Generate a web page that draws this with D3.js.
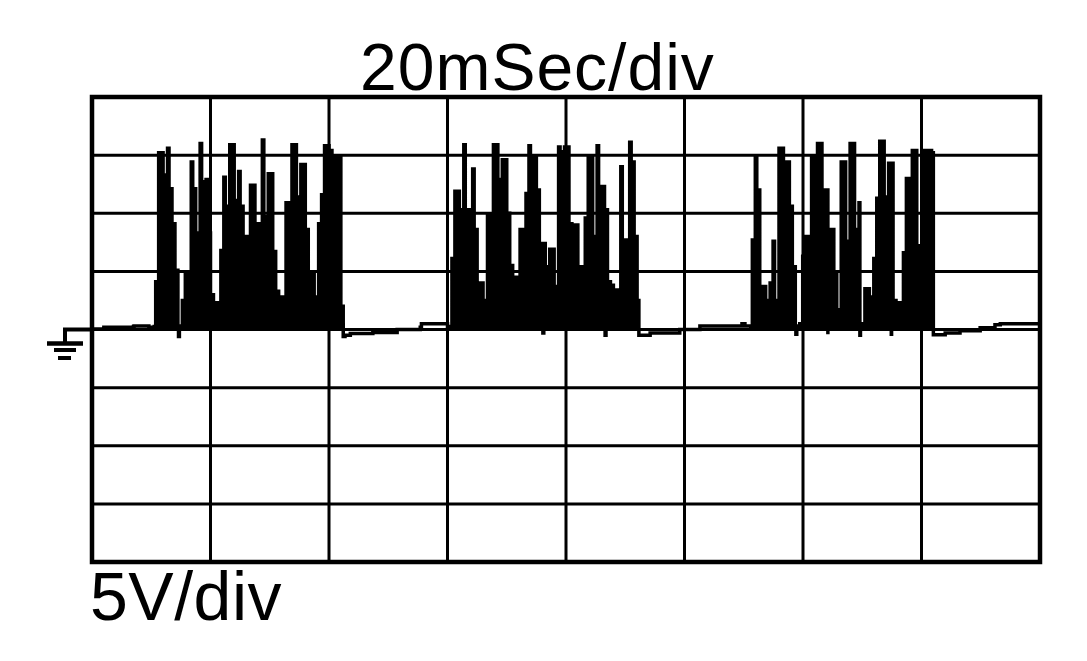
<!DOCTYPE html>
<html>
<head>
    <title>scope</title>
    <style>
        body { margin: 0; background: #fff; }
    </style>
</head>
<body>
<div id="chart"></div>
<script src="https://cdn.jsdelivr.net/npm/d3@7/dist/d3.min.js"></script>
<script type="text/javascript">
// scope settings
var timeTicks = [0, 20, 40, 60, 80, 100, 120, 140, 160];        // ms
var voltTicks = [-20, -15, -10, -5, 0, 5, 10, 15, 20];          // V
var timeLabel = '20mSec/div';
var voltLabel = '5V/div';

// quiet parts of the trace [ms, V]
var idle0 = [[0, 0.05], [1.9, 0.05], [2.0, 0.2], [7.0, 0.25], [7.1, 0.3], [9.5, 0.3], [9.6, 0.2], [10.3, 0.2]];
var idle1 = [[42.7, -0.5], [43.6, -0.35], [47.4, -0.25], [51.5, 0.0], [55.4, 0.2], [55.6, 0.5], [59.5, 0.5], [60.0, 0.15]];
var idle2 = [[92.5, -0.5], [94.2, -0.3], [99.2, 0.0], [102.6, 0.3], [109.7, 0.5], [110.2, 0.3], [111.0, 0.3]];
var idle3 = [[142.0, -0.45], [144.0, -0.3], [146.5, -0.1], [149.9, 0.15], [152.4, 0.4], [153.3, 0.5], [160, 0.5]];

// short negative dips [ms, V]
var dips = [[14.6, -0.6], [42.4, -0.6], [76.1, -0.3], [86.6, -0.5], [92.3, -0.5],
            [118.8, -0.4], [124.2, -0.4], [129.6, -0.5], [134.9, -0.4]];

// burst peaks, one every 0.5 ms (V)
var burstStart = [10.5, 60.5, 111.2];
var burstStep = 0.5;
var burstFloor = 0.25;
var burst1 = [4.1, 15.2, 15.2, 13.3, 15.6, 12.1, 9.1, 5.1, 0.3, 2.5,
              4.8, 4.8, 14.4, 12.1, 8.3, 16.0, 12.7, 12.9, 8.3, 3.0,
              2.3, 2.3, 6.8, 13.1, 10.6, 15.9, 15.9, 11.1, 13.6, 10.6,
              8.0, 8.0, 12.4, 12.4, 9.1, 9.1, 16.3, 9.7, 13.4, 13.4,
              6.7, 3.3, 2.8, 2.8, 10.9, 10.9, 15.9, 15.9, 11.4, 14.2,
              14.2, 8.6, 4.8, 4.8, 2.8, 9.1, 11.6, 15.8, 15.8, 15.4,
              14.9, 14.9, 14.9, 2.0];
var burst2 = [6.1, 11.9, 11.9, 10.3, 15.9, 10.3, 10.3, 13.8, 8.6, 4.0,
              4.0, 2.5, 9.8, 9.8, 15.9, 15.9, 12.9, 14.6, 14.6, 10.0,
              5.5, 4.5, 4.5, 8.6, 8.6, 11.7, 15.8, 14.8, 14.8, 12.0,
              7.4, 7.4, 5.4, 6.9, 6.9, 3.7, 15.7, 15.3, 15.7, 15.7,
              9.1, 9.0, 9.0, 5.4, 5.4, 9.6, 14.9, 14.9, 8.0, 15.8,
              12.3, 12.3, 10.3, 4.1, 3.8, 3.4, 3.4, 14.0, 7.7, 7.7,
              16.1, 14.4, 8.0, 2.5];
var burst3 = [7.7, 14.9, 12.0, 3.7, 3.7, 2.5, 4.0, 7.6, 2.5, 15.6,
              15.6, 14.4, 14.4, 10.6, 5.4, 0.3, 0.5, 6.3, 8.0, 8.0,
              14.8, 14.8, 16.0, 16.0, 12.0, 12.0, 8.6, 8.6, 4.8, 1.7,
              14.4, 14.4, 7.6, 16.0, 16.0, 8.6, 10.9, 0.5, 3.5, 3.5,
              2.8, 6.1, 11.3, 16.2, 16.2, 11.4, 14.3, 14.3, 2.5, 2.3,
              2.3, 6.6, 13.0, 13.0, 15.4, 15.4, 7.2, 7.2, 15.4, 15.4,
              15.4, 15.2];

var width = 1087, height = 661;

var svg = d3.select('#chart')
.append('svg')
.attr('width', width)
.attr('height', height);

var xScale = d3.scaleLinear()
.domain([0, 160])
.range([92, 1040]);

var yScale = d3.scaleLinear()
.domain([-20, 20])
.range([562, 97]);

// graticule
svg.append('g')
.selectAll('line')
.data(timeTicks.slice(1, -1))
.enter()
.append('line')
.attr('x1', d => xScale(d))
.attr('x2', d => xScale(d))
.attr('y1', yScale(20))
.attr('y2', yScale(-20))
.attr('stroke', '#000')
.attr('stroke-width', 3);

svg.append('g')
.selectAll('line')
.data(voltTicks.slice(1, -1))
.enter()
.append('line')
.attr('x1', xScale(0))
.attr('x2', xScale(160))
.attr('y1', d => yScale(d))
.attr('y2', d => yScale(d))
.attr('stroke', '#000')
.attr('stroke-width', 3);

// build the trace: floor, then peak, for every sample
var points = [].concat(idle0, idle1, idle2, idle3, dips);
[burst1, burst2, burst3].forEach((b, k) => {
    b.forEach((v, i) => {
        var t = burstStart[k] + i * burstStep;
        points.push([t, burstFloor]);
        points.push([t + burstStep / 2, v]);
    });
});
points.sort((a, b) => a[0] - b[0]);

var line = d3.line()
.x(d => xScale(d[0]))
.y(d => yScale(d[1]))
.curve(d3.curveStepAfter);

svg.append('path')
.attr('d', line(points))
.attr('fill', 'none')
.attr('stroke', '#000')
.attr('stroke-width', 3.5)
.attr('stroke-linejoin', 'miter');

// frame
svg.append('rect')
.attr('x', xScale(0))
.attr('y', yScale(20))
.attr('width', xScale(160) - xScale(0))
.attr('height', yScale(-20) - yScale(20))
.attr('fill', 'none')
.attr('stroke', '#000')
.attr('stroke-width', 4.5);

// ground marker at 0 V
var g0 = yScale(0);
var gx = xScale(0) - 27;
var ground = svg.append('g').attr('stroke', '#000').attr('fill', 'none');
ground.append('path')
.attr('d', 'M' + xScale(0) + ',' + g0 + 'H' + gx + 'V' + (g0 + 13))
.attr('stroke-width', 4)
.attr('stroke-linejoin', 'miter');
ground.append('line')
.attr('x1', gx - 18).attr('x2', gx + 18)
.attr('y1', g0 + 14).attr('y2', g0 + 14)
.attr('stroke-width', 4.5);
ground.append('line')
.attr('x1', gx - 11).attr('x2', gx + 11)
.attr('y1', g0 + 20.5).attr('y2', g0 + 20.5)
.attr('stroke-width', 4);
ground.append('line')
.attr('x1', gx - 7).attr('x2', gx + 6)
.attr('y1', g0 + 28.5).attr('y2', g0 + 28.5)
.attr('stroke-width', 4);

// labels
svg.append('text')
.attr('x', 360)
.attr('y', 90)
.style('font-family', '"Liberation Sans", Arial, sans-serif')
.style('font-size', '66px')
.style('letter-spacing', '1px')
.text(timeLabel);

svg.append('text')
.attr('x', 90)
.attr('y', 620)
.style('font-family', '"Liberation Sans", Arial, sans-serif')
.style('font-size', '68px')
.style('letter-spacing', '0.5px')
.text(voltLabel);
</script>
</body>
</html>
